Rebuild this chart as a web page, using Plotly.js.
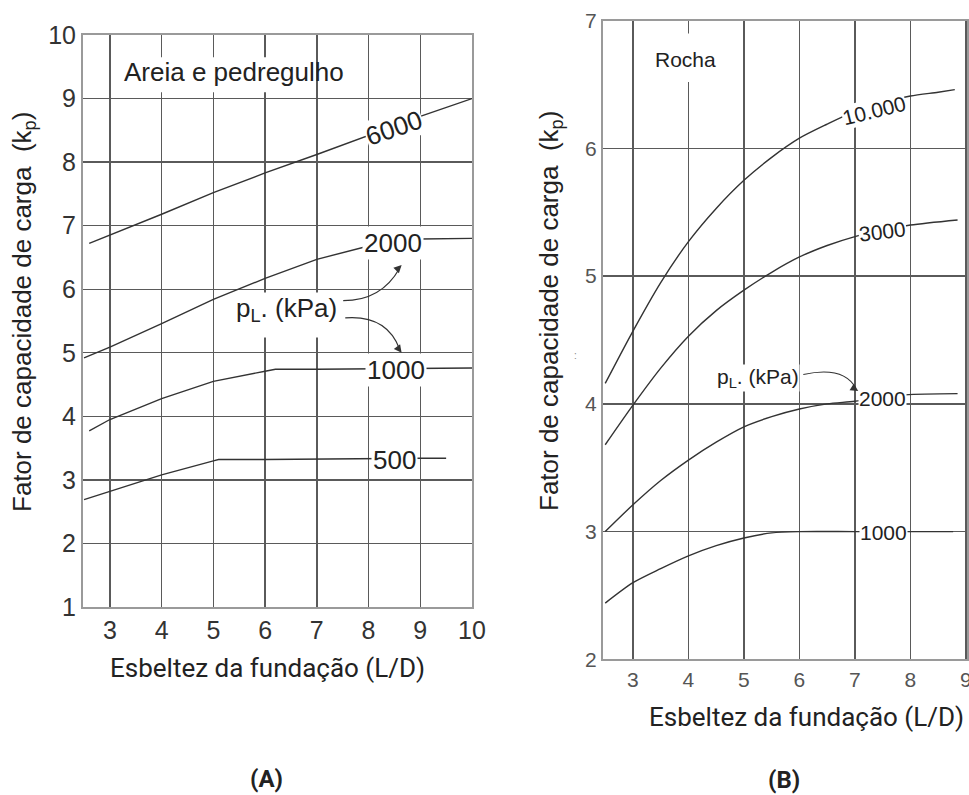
<!DOCTYPE html>
<html>
<head>
<meta charset="utf-8">
<script src="https://cdn.plot.ly/plotly-3.0.1.min.js"></script>
<style>html,body{margin:0;padding:0;background:#fff}#chart{width:969px;height:795px}</style>
</head>
<body>
<div id="chart"></div>
<script>
// ---- Data: (A) Areia e pedregulho ----
const a6000X = [2.6, 3, 4, 5, 6, 7, 8, 9, 10];
const a6000Y = [6.72, 6.85, 7.18, 7.52, 7.83, 8.12, 8.42, 8.72, 9.0];
const a2000X = [2.5, 3, 4, 5, 6, 7, 8, 8.5, 9, 10];
const a2000Y = [4.92, 5.09, 5.46, 5.84, 6.17, 6.47, 6.68, 6.75, 6.79, 6.80];
const a1000X = [2.6, 3, 4, 5, 6, 6.2, 7, 8, 9, 10];
const a1000Y = [3.77, 3.95, 4.28, 4.55, 4.71, 4.74, 4.74, 4.75, 4.76, 4.76];
const a500X = [2.5, 3, 4, 5, 5.1, 6, 7, 8, 9, 9.5];
const a500Y = [2.69, 2.82, 3.08, 3.30, 3.32, 3.32, 3.33, 3.33, 3.34, 3.34];
// ---- Data: (B) Rocha ----
const r10000X = [2.5, 3, 3.5, 4, 4.5, 5, 5.5, 6, 6.5, 7, 7.5, 8, 8.5, 8.8];
const r10000Y = [4.16, 4.57, 4.95, 5.27, 5.53, 5.75, 5.93, 6.08, 6.19, 6.29, 6.36, 6.41, 6.44, 6.46];
const r3000X = [2.5, 3, 3.5, 4, 4.5, 5, 5.5, 6, 6.5, 7, 7.5, 8, 8.85];
const r3000Y = [3.68, 3.99, 4.28, 4.53, 4.73, 4.89, 5.03, 5.15, 5.24, 5.31, 5.36, 5.40, 5.44];
const r2000X = [2.5, 3, 3.5, 4, 4.5, 5, 5.5, 6, 6.5, 7, 7.9, 8.85];
const r2000Y = [3.0, 3.21, 3.40, 3.56, 3.70, 3.82, 3.90, 3.96, 4.0, 4.02, 4.07, 4.08];
const r1000X = [2.5, 3, 3.5, 4, 4.5, 5, 5.5, 6, 7, 8, 8.77];
const r1000Y = [2.44, 2.6, 2.71, 2.81, 2.89, 2.95, 2.99, 3.0, 3.0, 3.0, 3.0];
// ---- Tick labels ----
const ticksAX = [3, 4, 5, 6, 7, 8, 9, 10];
const ticksAY = [1, 2, 3, 4, 5, 6, 7, 8, 9, 10];
const ticksBX = [3, 4, 5, 6, 7, 8, 9];
const ticksBY = [2, 3, 4, 5, 6, 7];
// ---- Curve labels ----
const labelsA = ['6000', '2000', '1000', '500'];
const labelsB = ['10.000', '3000', '2000', '1000'];

const lineCol = '#333';
function tr(x, y, xa, ya, shape) {
  return {x: x, y: y, xaxis: xa, yaxis: ya, mode: 'lines', type: 'scatter',
    line: {color: lineCol, width: 1.4, shape: shape || 'linear', smoothing: 0.8},
    hoverinfo: 'skip', showlegend: false};
}
const data = [
  tr(a6000X, a6000Y, 'x', 'y'), tr(a2000X, a2000Y, 'x', 'y'),
  tr(a1000X, a1000Y, 'x', 'y'), tr(a500X, a500Y, 'x', 'y'),
  tr(r10000X, r10000Y, 'x2', 'y2', 'spline'), tr(r3000X, r3000Y, 'x2', 'y2', 'spline'),
  tr(r2000X, r2000Y, 'x2', 'y2', 'spline'), tr(r1000X, r1000Y, 'x2', 'y2', 'spline')
];

const W = 969, H = 795;
const px = v => v / W, py = v => (H - v) / H;
const ARIAL = 'Liberation Sans, Arial, sans-serif';
const ROBOTO = 'Roboto, sans-serif';
const gridCol = '#5a5a5a';

function axis(extra) {
  return Object.assign({showgrid: true, gridcolor: gridCol, gridwidth: 1.4,
    showline: true, mirror: true, linecolor: '#9a9a9a', linewidth: 2,
    zeroline: false, ticks: '', fixedrange: true, ticklabeloverflow: 'allow'}, extra);
}

function note(o) {
  return Object.assign({showarrow: false, xanchor: 'center', yanchor: 'middle'}, o);
}

const layout = {
  width: W, height: H, margin: {l: 0, r: 0, t: 0, b: 0},
  paper_bgcolor: '#fff', plot_bgcolor: '#fff', showlegend: false,
  xaxis: axis({domain: [px(83), px(472)], range: [2.48, 10], tickvals: ticksAX, anchor: 'y',
    tickfont: {family: ARIAL, size: 25, color: '#333'}}),
  yaxis: axis({domain: [py(607), py(35)], range: [1, 10], tickvals: ticksAY, anchor: 'x',
    tickfont: {family: ARIAL, size: 25, color: '#333'}}),
  xaxis2: axis({domain: [px(603), px(967)], range: [2.46, 9.02], tickvals: ticksBX, anchor: 'y2',
    tickfont: {family: ARIAL, size: 21, color: '#555'}}),
  yaxis2: axis({domain: [py(659.3), py(20.7)], range: [2, 7], tickvals: ticksBY, anchor: 'x2',
    tickfont: {family: ARIAL, size: 21, color: '#555'}}),
  shapes: [
    {type: 'rect', xref: 'x', yref: 'y', x0: 3.2, x1: 6.6, y0: 9.1, y1: 9.65, fillcolor: '#fff', line: {width: 0}, layer: 'above'},
    {type: 'rect', xref: 'x', yref: 'y', x0: 5.45, x1: 7.45, y0: 5.24, y1: 5.95, fillcolor: '#fff', line: {width: 0}, layer: 'above'},
    {type: 'rect', xref: 'x2', yref: 'y2', x0: 3.4, x1: 4.5, y0: 6.52, y1: 6.9, fillcolor: '#fff', line: {width: 0}, layer: 'above'},
    {type: 'path', xref: 'x', yref: 'y', path: 'M 7.51,5.82 Q 8.25,5.82 8.6,6.33', line: {color: lineCol, width: 1.2}, layer: 'above'},
    {type: 'path', xref: 'x', yref: 'y', path: 'M 7.55,5.55 Q 8.35,5.6 8.6,5.06', line: {color: lineCol, width: 1.2}, layer: 'above'},
    {type: 'path', xref: 'x2', yref: 'y2', path: 'M 6.07,4.23 Q 6.8,4.3 7.02,4.12', line: {color: lineCol, width: 1.2}, layer: 'above'}
  ],
  annotations: [
    // titles
    note({xref: 'paper', yref: 'paper', x: px(23), y: py(312), text: 'Fator de capacidade de carga  (k<sub>p</sub>)', textangle: -90, font: {family: ARIAL, size: 26, color: '#222'}}),
    note({xref: 'paper', yref: 'paper', x: px(550), y: py(311), text: 'Fator de capacidade de carga  (k<sub>p</sub>)', textangle: -90, font: {family: ARIAL, size: 26, color: '#222'}}),
    note({xref: 'paper', yref: 'paper', x: px(267), y: py(668), text: 'Esbeltez da fundação (L/D)', font: {family: ROBOTO, size: 26, color: '#222'}}),
    note({xref: 'paper', yref: 'paper', x: px(806), y: py(717), text: 'Esbeltez da fundação (L/D)', font: {family: ROBOTO, size: 26, color: '#222'}}),
    note({xref: 'paper', yref: 'paper', x: px(266), y: py(779), text: '<b>(A)</b>', font: {family: ROBOTO, size: 24, color: '#222'}}),
    note({xref: 'paper', yref: 'paper', x: px(784), y: py(780), text: '<b>(B)</b>', font: {family: ROBOTO, size: 24, color: '#222'}}),
    note({xref: 'paper', yref: 'paper', x: px(575), y: py(355), text: ':', font: {family: ARIAL, size: 10, color: '#888'}}),
    // panel names
    note({xref: 'x', yref: 'y', x: 5.40, y: 9.42, text: 'Areia e pedregulho', font: {family: ARIAL, size: 26, color: '#222'}}),
    note({xref: 'x2', yref: 'y2', x: 3.95, y: 6.70, text: 'Rocha', font: {family: ARIAL, size: 21, color: '#222'}}),
    // pL labels
    note({xref: 'x', yref: 'y', x: 6.42, y: 5.68, text: 'p<sub>L</sub>. (kPa)', font: {family: ARIAL, size: 26, color: '#222'}}),
    note({xref: 'x2', yref: 'y2', x: 5.26, y: 4.2, text: 'p<sub>L</sub>. (kPa)', bgcolor: '#fff', borderpad: 0, font: {family: ARIAL, size: 21, color: '#222'}}),
    // curve labels A
    note({xref: 'x', yref: 'y', x: 8.49, y: 8.54, text: labelsA[0], textangle: -19, bgcolor: '#fff', borderpad: 0, font: {family: ARIAL, size: 26, color: '#222'}}),
    note({xref: 'x', yref: 'y', x: 8.47, y: 6.73, text: labelsA[1], bgcolor: '#fff', borderpad: 1, font: {family: ARIAL, size: 26, color: '#222'}}),
    note({xref: 'x', yref: 'y', x: 8.53, y: 4.73, text: labelsA[2], bgcolor: '#fff', borderpad: 1, font: {family: ARIAL, size: 26, color: '#222'}}),
    note({xref: 'x', yref: 'y', x: 8.51, y: 3.32, text: labelsA[3], bgcolor: '#fff', borderpad: 1, font: {family: ARIAL, size: 26, color: '#222'}}),
    // curve labels B
    note({xref: 'x2', yref: 'y2', x: 7.35, y: 6.30, text: labelsB[0], textangle: -14, bgcolor: '#fff', borderpad: 0, font: {family: ARIAL, size: 21, color: '#222'}}),
    note({xref: 'x2', yref: 'y2', x: 7.50, y: 5.35, text: labelsB[1], textangle: -7, bgcolor: '#fff', borderpad: 0, font: {family: ARIAL, size: 21, color: '#222'}}),
    note({xref: 'x2', yref: 'y2', x: 7.49, y: 4.04, text: labelsB[2], bgcolor: '#fff', borderpad: 0, font: {family: ARIAL, size: 21, color: '#222'}}),
    note({xref: 'x2', yref: 'y2', x: 7.52, y: 2.99, text: labelsB[3], bgcolor: '#fff', borderpad: 0, font: {family: ARIAL, size: 21, color: '#222'}}),
    // arrowheads
    {xref: 'x', yref: 'y', x: 8.64, y: 6.38, text: ' ', showarrow: true, arrowhead: 2, arrowsize: 1.3, arrowwidth: 1.2, arrowcolor: lineCol, ax: -7, ay: 7, standoff: 0},
    {xref: 'x', yref: 'y', x: 8.64, y: 5.0, text: ' ', showarrow: true, arrowhead: 2, arrowsize: 1.3, arrowwidth: 1.2, arrowcolor: lineCol, ax: -6, ay: -8, standoff: 0},
    {xref: 'x2', yref: 'y2', x: 7.06, y: 4.10, text: ' ', showarrow: true, arrowhead: 2, arrowsize: 1.3, arrowwidth: 1.2, arrowcolor: lineCol, ax: -8, ay: -5, standoff: 0}
  ]
};

Plotly.newPlot('chart', data, layout, {staticPlot: true, displayModeBar: false});
</script>
</body>
</html>
